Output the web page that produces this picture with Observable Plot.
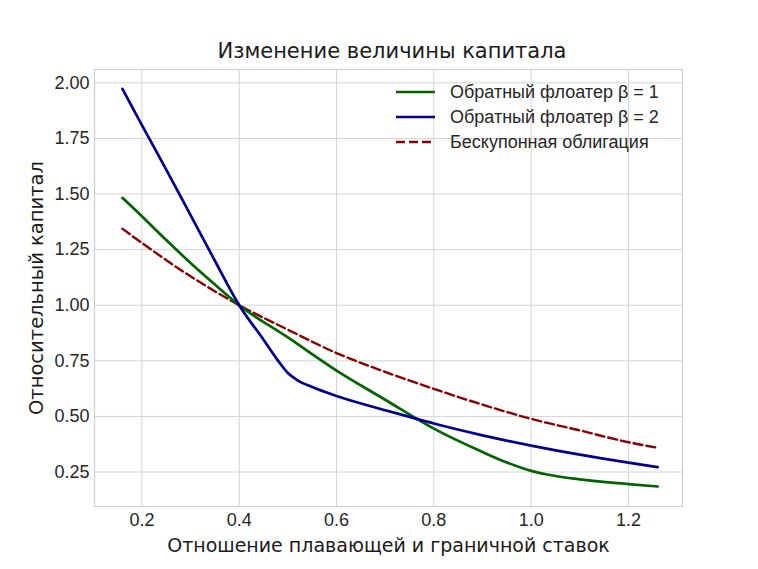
<!DOCTYPE html>
<html>
<head>
<meta charset="utf-8">
<script src="https://cdn.jsdelivr.net/npm/d3@7"></script>
<script src="https://cdn.jsdelivr.net/npm/@observablehq/plot@0.6"></script>
<style>
  html, body { margin: 0; padding: 0; background: #fff; }
  #wrap { position: relative; width: 758px; height: 569px; overflow: hidden; }
  #title { position: absolute; left: 392px; top: 41px; transform: translateX(-50%);
    font-family: "DejaVu Sans", sans-serif; font-size: 21px; color: #1a1a1a; white-space: nowrap; line-height: 1; }
  #chart { position: absolute; left: 0; top: 62px; }
  #legend { position: absolute; left: 0; top: 0; }
</style>
</head>
<body>
<div id="wrap">
  <div id="title">Изменение величины капитала</div>
  <div id="chart"></div>
</div>
<script>
const titleText = "Изменение величины капитала";
const xLabel = "Отношение плавающей и граничной ставок";
const yLabel = "Относительный капитал";

const seriesNames = ["Обратный флоатер β = 1", "Обратный флоатер β = 2", "Бескупонная облигация"];
const seriesColors = ["#006400", "#00008b", "#8b0000"];

const xTicks = [0.2, 0.4, 0.6, 0.8, 1.0, 1.2];
const yTicks = [0.25, 0.5, 0.75, 1.0, 1.25, 1.5, 1.75, 2.0];

const floater1X = [0.16, 0.2, 0.25, 0.3, 0.35, 0.4, 0.5, 0.6, 0.7, 0.8, 0.9, 0.95, 1.0, 1.03, 1.1, 1.2, 1.26];
const floater1Y = [1.483, 1.40, 1.293, 1.19, 1.093, 1.00, 0.855, 0.706, 0.575, 0.445, 0.34, 0.293, 0.255, 0.240, 0.217, 0.196, 0.185];

const floater2X = [0.16, 0.2, 0.25, 0.3, 0.35, 0.4, 0.45, 0.48, 0.5, 0.52, 0.55, 0.6, 0.7, 0.75, 0.8, 0.9, 1.0, 1.1, 1.2, 1.26];
const floater2Y = [1.973, 1.81, 1.61, 1.405, 1.20, 1.00, 0.845, 0.75, 0.695, 0.662, 0.632, 0.592, 0.528, 0.498, 0.468, 0.415, 0.369, 0.328, 0.292, 0.272];

const bondX = [0.16, 0.2, 0.3, 0.4, 0.5, 0.6, 0.7, 0.8, 0.9, 1.0, 1.1, 1.2, 1.26];
const bondY = [1.344, 1.28, 1.13, 1.00, 0.89, 0.785, 0.70, 0.624, 0.553, 0.489, 0.437, 0.384, 0.359];

const toRows = (xs, ys, s) => xs.map((x, i) => ({x, y: ys[i], s}));
const d1 = toRows(floater1X, floater1Y, seriesNames[0]);
const d2 = toRows(floater2X, floater2Y, seriesNames[1]);
const d3r = toRows(bondX, bondY, seriesNames[2]);

const W = 758, H = 507;
const plot = Plot.plot({
  width: W, height: H,
  marginLeft: 94, marginRight: 76, marginTop: 7, marginBottom: 63,
  style: {fontFamily: "Liberation Sans, Arial, sans-serif", fontSize: "18px", background: "#fff"},
  x: {domain: [0.1026, 1.311]},
  y: {domain: [0.095, 2.06]},
  marks: [
    Plot.gridX(xTicks, {stroke: "#d4d4d4", strokeOpacity: 1, strokeWidth: 1}),
    Plot.gridY(yTicks, {stroke: "#d4d4d4", strokeOpacity: 1, strokeWidth: 1}),
    Plot.frame({stroke: "#cfcfcf", strokeWidth: 1.2}),
    Plot.axisX(xTicks, {tickSize: 0, tickPadding: 7, tickFormat: d3.format(".1f"), fontSize: 18, fill: "#262626", label: null}),
    Plot.axisY(yTicks, {tickSize: 0, tickPadding: 5, tickFormat: d3.format(".2f"), fontSize: 18, fill: "#262626", label: null}),
    Plot.line(d3r, {x: "x", y: "y", stroke: seriesColors[2], strokeWidth: 2.4, strokeDasharray: "9,4", curve: "monotone-x"}),
    Plot.line(d1, {x: "x", y: "y", stroke: seriesColors[0], strokeWidth: 2.7, curve: "monotone-x"}),
    Plot.line(d2, {x: "x", y: "y", stroke: seriesColors[1], strokeWidth: 2.7, curve: "monotone-x"}),
    Plot.text([xLabel], {frameAnchor: "bottom", text: d => d, dy: 39, lineAnchor: "middle", fontSize: 19, fontFamily: "DejaVu Sans, sans-serif", fill: "#1a1a1a"}),
    Plot.text([yLabel], {frameAnchor: "left", text: d => d, dx: -58, rotate: -90, lineAnchor: "middle", textAnchor: "middle", fontSize: 19.5, fontFamily: "DejaVu Sans, sans-serif", fill: "#1a1a1a"})
  ]
});
document.getElementById("chart").appendChild(plot);

// legend overlay (top right inside the frame)
const leg = d3.select("#wrap").append("svg").attr("id", "legend").attr("width", W).attr("height", 569);
const rows = seriesNames.map((n, i) => ({n, c: seriesColors[i], dash: i === 2 ? "9,4" : null, i}));
const g = leg.selectAll("g").data(rows).join("g").attr("transform", d => `translate(396, ${92 + d.i * 25})`);
g.append("line").attr("x1", 0).attr("x2", 39).attr("y1", 0).attr("y2", 0)
  .attr("stroke", d => d.c).attr("stroke-width", d => d.i === 2 ? 2.4 : 2.7).attr("stroke-dasharray", d => d.dash);
g.append("text").attr("x", 54).attr("y", 0).attr("dy", "0.35em").text(d => d.n)
  .attr("font-family", "Liberation Sans, Arial, sans-serif").attr("font-size", 18).attr("fill", "#262626");
</script>
</body>
</html>
